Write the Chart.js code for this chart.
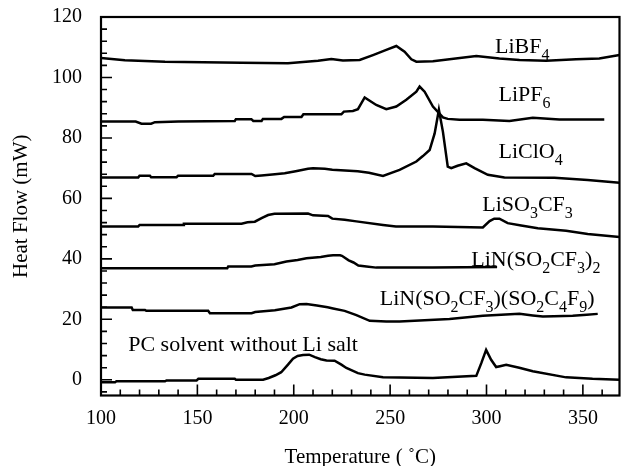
<!DOCTYPE html>
<html><head><meta charset="utf-8">
<script src="https://cdn.jsdelivr.net/npm/chart.js@4.4.0/dist/chart.umd.min.js"></script>
<style>html,body{margin:0;padding:0;background:#fff;}canvas{display:block;}</style>
</head><body>
<canvas id="c" width="622" height="466"></canvas>
<script>
// Tick values
const xTickValues = [100,150,200,250,300,350];
const xMinorValues = [110,120,130,140,160,170,180,190,210,220,230,240,260,270,280,290,310,320,330,340,360];
const yTickValues = [0,20,40,60,80,100,120];
const yMinorValues = [-4,4,8,12,16,24,28,32,36,44,48,52,56,64,68,72,76,84,88,92,96,104,108,112,116];

// Series: temperature (°C) and heat flow (mW)
const tempLiBF4 = [100,112.4,133.2,172.9,197,212.6,219.5,225.5,234.2,241.1,248,253.2,257.5,261,263.6,272.2,294.7,306.7,317.1,330.9,346.5,358.5,369];
const flowLiBF4 = [106.4,105.7,105.2,104.9,104.7,105.5,106.1,105.6,105.8,107.4,109.1,110.4,108.5,106,105.2,105.4,107.1,106.3,105.8,105.5,106,106.3,107.4];

const tempLiPF6 = [100,118,121,126,128,140.1,169.4,170,178,179,183.3,184,193.6,195,204,205,224.7,226,230.7,233.3,236.8,242.8,248,253.2,258.4,263.6,265.3,267.9,272.2,277.4,279.9,286,298.1,311.9,324,337.8,361.1];
const flowLiPF6 = [85.4,85.4,84.7,84.7,85.2,85.4,85.6,86.2,86.2,85.6,85.6,86.3,86.3,86.9,86.9,87.8,87.8,88.7,88.9,89.5,93.4,90.9,89.5,90.4,92.6,95.3,97,95.3,90.4,86.8,86.3,86,86,85.6,86.7,86.1,86.1];

const tempLiClO4 = [100,119.3,120,125.4,126,139.2,140,158.2,159,178.1,180,183.3,190.2,195.3,201,207.4,210,216.1,220,233.2,239,246.3,254.9,263.6,267,270.5,273.1,275.3,277.4,279.9,281.7,285,289.5,293.8,300.7,309.3,335.2,352.5,369];
const flowLiClO4 = [66.9,66.9,67.5,67.5,67,67,67.5,67.5,68.1,68.1,67.4,67.6,68,68.3,69,69.8,70,69.8,69.5,69,68.5,67.4,69.4,72.2,74,76,81.5,89.3,82,70.5,70,70.8,71.6,70,67.8,66.9,66.8,66.1,65.2];

const tempLiSO3CF3 = [100,119.3,120,142.6,143,172.9,176,179.8,183.3,186.7,190,207.4,210,217.8,220,226.4,232.5,246.3,253,272.2,298.1,301.6,304,306.7,311,318,326.6,341.3,352.5,369];
const flowLiSO3CF3 = [50.7,50.7,51.2,51.2,51.6,51.6,52.1,52.3,53.5,54.5,54.9,55,54.4,54.2,53.3,52.9,52.4,51.2,50.7,50.7,50.4,52.5,53.3,53.3,51.8,51,50.1,49.3,48.2,47.2];

const tempLiTFSI = [100,165.5,166,178,180,190,196.2,202,206.6,214,217.8,220.4,224,225,228.5,231,233.5,237.7,242.8,272.2,305.5];
const flowLiTFSI = [36.9,36.9,37.5,37.5,37.8,38.2,39.1,39.6,40.2,40.6,41,41.2,41.2,41,39.5,38.8,37.8,37.5,37.1,37.1,37.3];

const tempLiMixed = [100,115.9,116.5,122.8,123.5,155.6,156.5,178.1,180,190.2,198.8,203.1,206.6,212,217.6,220.4,226.4,232.5,239.4,248,254.9,280.8,298.1,310,317.1,324,329.2,335,344.7,352,357.7];
const flowLiMixed = [23.9,23.9,23.1,23.1,22.8,22.8,22,22,22.4,23,23.9,25,25.1,24.6,24,23.6,22.8,21.4,19.5,19.3,19.3,20.1,21.2,21.6,21.8,21.3,20.9,21,21.2,21.5,21.8];

const tempPC = [100,107.3,108,133.2,134,149.6,150.5,169.4,170,184.1,187,190.5,193.5,197,199.6,202,204.8,208,211,214,217,221.2,224.7,227.3,233.3,236.8,246.3,272.2,294.7,297.3,299.8,302.4,305,307,310.2,317,324,341.3,355,369];
const flowPC = [-0.8,-0.8,-0.5,-0.5,-0.2,-0.2,0.3,0.3,0,0,0.6,1.5,2.5,5,7,7.9,8.2,8.3,7.5,6.8,6.4,6.3,5,3.9,2.2,1.7,0.8,0.6,1.3,5.5,9.9,6.6,4.2,4.5,5,4,2.8,0.8,0.3,0];

// In-plot curve labels ("_" marks a one-character subscript)
const curveLabels = ['LiBF_4','LiPF_6','LiClO_4','LiSO_3CF_3','LiN(SO_2CF_3)_2','LiN(SO_2CF_3)(SO_2C_4F_9)','PC solvent without Li salt'];
const labelTemp = [304.4,306.2,306.2,297.8,292.1,244.6,114.1];
const labelFlow = [108.2,92.1,73.3,55.7,37.6,24.9,9.5];

const xTitle = 'Temperature ( ˚C)';
const yTitle = 'Heat Flow (mW)';

const FONT = '"Liberation Serif", "Times New Roman", serif';
Chart.defaults.font.family = FONT;
Chart.defaults.color = '#000';

const seriesList = [
  [tempLiBF4, flowLiBF4],[tempLiPF6, flowLiPF6],[tempLiClO4, flowLiClO4],[tempLiSO3CF3, flowLiSO3CF3],
  [tempLiTFSI, flowLiTFSI],[tempLiMixed, flowLiMixed],[tempPC, flowPC]
];

function parseRuns(s){
  const runs=[]; let cur='';
  for(let k=0;k<s.length;k++){
    if(s[k]==='_'){ if(cur){runs.push([cur,false]);cur='';} runs.push([s[k+1],true]); k++; }
    else cur+=s[k];
  }
  if(cur) runs.push([cur,false]);
  return runs;
}

const decor = {
  id:'decor',
  afterDatasetsDraw(chart){
    const {ctx, chartArea:a, scales:{x,y}} = chart;
    ctx.save();
    ctx.strokeStyle='#000';
    ctx.lineWidth=1.6;
    ctx.beginPath();
    xTickValues.forEach(v=>{const p=x.getPixelForValue(v); ctx.moveTo(p,a.bottom); ctx.lineTo(p,a.bottom-11);});
    xMinorValues.forEach(v=>{const p=x.getPixelForValue(v); ctx.moveTo(p,a.bottom); ctx.lineTo(p,a.bottom-6);});
    yTickValues.forEach(v=>{const p=y.getPixelForValue(v); ctx.moveTo(a.left,p); ctx.lineTo(a.left+11,p);});
    yMinorValues.forEach(v=>{const p=y.getPixelForValue(v); ctx.moveTo(a.left,p); ctx.lineTo(a.left+6,p);});
    ctx.stroke();
    ctx.lineWidth=2.2;
    ctx.strokeRect(a.left, a.top, a.right-a.left, a.bottom-a.top);
    ctx.fillStyle='#000'; ctx.textBaseline='alphabetic'; ctx.textAlign='left';
    curveLabels.forEach((s,i)=>{
      let px=x.getPixelForValue(labelTemp[i]); const py=y.getPixelForValue(labelFlow[i]);
      parseRuns(s).forEach(([t,sub])=>{
        ctx.font = (sub?'16px ':'22px ')+FONT;
        ctx.fillText(t, px, py+(sub?7:0));
        px += ctx.measureText(t).width;
      });
    });
    ctx.restore();
  }
};

new Chart(document.getElementById('c'), {
  type:'scatter',
  data:{datasets: seriesList.map(([xs,ys])=>({
    data: xs.map((v,i)=>({x:v,y:ys[i]})),
    showLine:true, borderColor:'#000', borderWidth:2.5, pointRadius:0, tension:0, fill:false
  }))},
  options:{
    responsive:false, animation:false, devicePixelRatio:1,
    layout:{padding:{top:17,right:2.5,bottom:0,left:0}},
    plugins:{legend:{display:false}, tooltip:{enabled:false}},
    scales:{
      x:{type:'linear', min:100, max:369,
        afterBuildTicks:s=>{s.ticks=xTickValues.map(v=>({value:v}));},
        afterFit:s=>{s.height=70.5; s.paddingLeft=0; s.paddingRight=0;},
        grid:{display:false, drawTicks:false}, border:{display:false},
        ticks:{font:{size:20}, color:'#000', padding:11.5, maxRotation:0},
        title:{display:true, text:xTitle, font:{size:21, lineHeight:0.8}, color:'#000', padding:0}
      },
      y:{type:'linear', min:-5.2, max:120,
        afterBuildTicks:s=>{s.ticks=yTickValues.map(v=>({value:v}));},
        afterFit:s=>{s.width=101; s.paddingTop=0; s.paddingBottom=0;},
        grid:{display:false, drawTicks:false}, border:{display:false},
        ticks:{font:{size:20}, color:'#000', padding:19},
        title:{display:true, text:yTitle, font:{size:21}, color:'#000', padding:{top:9,bottom:0}}
      }
    }
  },
  plugins:[decor]
});
</script>
</body></html>
